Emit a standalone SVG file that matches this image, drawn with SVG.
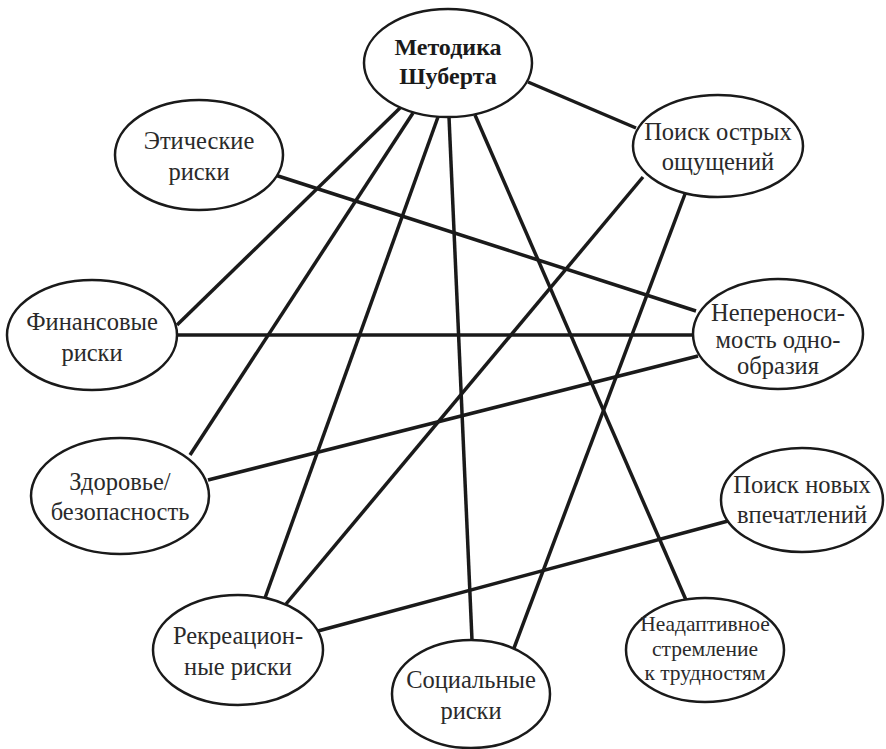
<svg xmlns="http://www.w3.org/2000/svg" width="886" height="749" viewBox="0 0 886 749">
<style>
.n{fill:#fff;stroke:#1a1a1a;stroke-width:2.5}
text{font-family:"Liberation Serif",Tinos,"Times New Roman",Times,"Noto Serif","DejaVu Serif",serif;font-size:24.5px;fill:#2a2a2a;text-anchor:middle}
.b{font-weight:bold;fill:#1a1a1a;font-size:24px}
.s{font-size:21.5px}
.c line{stroke:#1a1a1a;stroke-width:3.5}
</style>
<rect width="886" height="749" fill="#fff"/>
<g class="c" id="connectors">
<line x1="528" y1="82" x2="636" y2="128"/>
<line x1="400" y1="108" x2="177" y2="325"/>
<line x1="413" y1="113" x2="190" y2="455"/>
<line x1="438" y1="117" x2="265" y2="598"/>
<line x1="449" y1="117" x2="472" y2="640"/>
<line x1="475" y1="115" x2="686" y2="600"/>
<line x1="275" y1="175" x2="696" y2="311"/>
<line x1="177" y1="335" x2="693" y2="335"/>
<line x1="208" y1="480" x2="698" y2="356"/>
<line x1="643" y1="177" x2="286" y2="604"/>
<line x1="685" y1="194" x2="505" y2="672"/>
<line x1="318" y1="631" x2="728" y2="521"/>
</g>
<g id="metodika"><ellipse class="n" cx="448" cy="63" rx="84" ry="54"/><text class="b" x="448" y="55">Методика</text><text class="b" x="448" y="84">Шуберта</text></g>
<g id="eticheskie"><ellipse class="n" cx="199" cy="155" rx="84" ry="55"/><text x="199" y="149">Этические</text><text x="199" y="180">риски</text></g>
<g id="poisk-ostryh"><ellipse class="n" cx="718" cy="146" rx="85" ry="51"/><text x="718" y="140">Поиск острых</text><text x="718" y="170">ощущений</text></g>
<g id="finansovye"><ellipse class="n" cx="92" cy="335" rx="85" ry="55"/><text x="92" y="330">Финансовые</text><text x="92" y="361">риски</text></g>
<g id="neperenosimost"><ellipse class="n" cx="778" cy="334" rx="85" ry="55"/><text x="778" y="321">Непереноси-</text><text x="778" y="348">мость одно-</text><text x="778" y="374">образия</text></g>
<g id="zdorovie"><ellipse class="n" cx="120" cy="496" rx="89" ry="58"/><text x="120" y="490">Здоровье/</text><text x="120" y="520">безопасность</text></g>
<g id="poisk-novyh"><ellipse class="n" cx="802" cy="500" rx="81" ry="52"/><text x="802" y="493">Поиск новых</text><text x="802" y="523">впечатлений</text></g>
<g id="rekreatsionnye"><ellipse class="n" cx="238" cy="650" rx="85" ry="55"/><text x="238" y="644">Рекреацион-</text><text x="238" y="675">ные риски</text></g>
<g id="socialnye"><ellipse class="n" cx="471" cy="694" rx="79" ry="54"/><text x="471" y="688">Социальные</text><text x="471" y="719">риски</text></g>
<g id="neadaptivnoe"><ellipse class="n" cx="705" cy="650" rx="79" ry="52"/><text class="s" x="705" y="631">Неадаптивное</text><text class="s" x="705" y="656">стремление</text><text class="s" x="705" y="680">к трудностям</text></g>
</svg>
